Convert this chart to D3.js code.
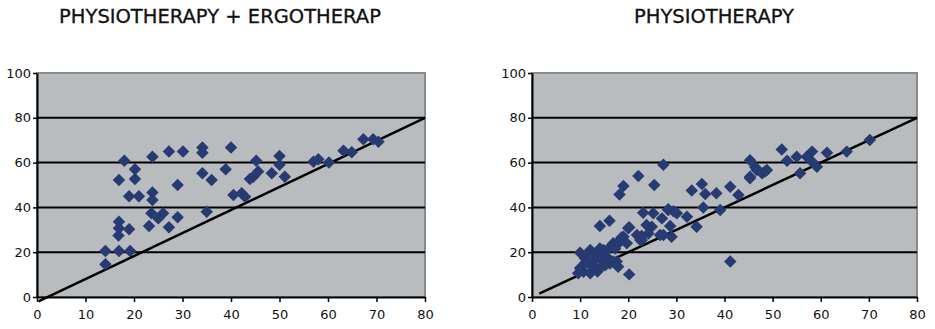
<!DOCTYPE html>
<html>
<head>
<meta charset="utf-8">
<script src="https://cdn.jsdelivr.net/npm/d3@7"></script>
<style>
  body { margin: 0; background: #fff; }
  svg { display: block; }
  .tick text { font-family: "DejaVu Sans", sans-serif; font-size: 13px; fill: #111; }
</style>
</head>
<body>
<svg id="chart" width="935" height="329"></svg>
<script>
// values: [x, y]
var leftTitle = "PHYSIOTHERAPY + ERGOTHERAP";
var rightTitle = "PHYSIOTHERAPY";
var xTicks = [0, 10, 20, 30, 40, 50, 60, 70, 80];
var yTicks = [0, 20, 40, 60, 80, 100];

var leftPoints = [
  [14.1,14.6],[14.1,20.5],[16.9,20.5],[19.2,20.5],[16.8,27.4],[16.9,30.7],[16.9,33.6],[19,30.2],
  [16.9,52.2],[18,60.8],[20.2,57],[20.2,52.7],[19,45],[21,45],[23.8,46.6],[23.8,43.3],
  [23.6,37.4],[25,35.1],[26,37.4],[23.1,31.7],[27.2,31.1],[29,35.6],[23.8,62.6],[27.2,65],
  [30.1,65],[34.1,66.7],[34.1,64.4],[40,66.7],[38.9,57],[34.1,55.2],[36,52.2],[29,50],
  [35,38.1],[40.5,45.5],[42.2,46.3],[42.9,44.8],[44.6,53.7],[43.9,52.7],[45.6,56],[45.2,60.8],
  [50,63],[50,59],[48.4,55.2],[51.1,53.7],[57,60.4],[58,61.5],[60.2,60],[63.2,65.3],
  [64.9,64.6],[67.3,70.4],[69.3,70.4],[70.4,69.3]
];
var leftLine = [[0.3,-2],[80,80]];

var rightPoints = [
  [9.6,10.6],[10,12.8],[10,19.8],[10.3,13.5],[10.7,11.3],[11,17.3],[11.7,19.5],[12.1,10.6],
  [12.1,14.3],[12.1,21],[13.1,12.8],[13.1,16.5],[13.5,18],[14.1,21.7],[14.1,12.8],[14.5,16.5],
  [14.8,21],[14.8,17.3],[15.5,18],[15.9,21.7],[16.2,15],[16.9,15.8],[16.9,24],[17.3,21.7],
  [17.6,15.8],[17.9,13.5],[18.3,25.4],[18.3,24.7],[19,26.9],[19.7,24],[20,30.7],[20.2,10.1],
  [14.1,31.7],[16.1,34],[18.2,45.8],[19,49.6],[22.1,54],[27.3,59],[25.4,50],[23.1,37.6],
  [25.2,37.4],[28.3,38.8],[29.4,38.3],[27,35.1],[20.2,31.1],[24.9,31.4],[18.6,26.6],[22.8,27.2],
  [26.6,27.7],[21.8,27.7],[22.8,25.4],[23.8,32.1],[24.2,28.4],[22.5,25.4],[29,26.9],[27.3,27.7],
  [28.7,31.7],[30.1,37.4],[32.2,35.8],[28.3,39.2],[34.2,31.4],[33.2,47.5],[35.3,50.4],[36,46],
  [38.3,46.3],[41.2,49.2],[42.9,45.5],[35.6,40],[39.1,38.8],[41.2,15.8],[45.3,53.7],[45.3,61],
  [46.7,56.7],[48.4,56],[45.3,53],[46.4,57.9],[47.8,55.2],[48.8,56.7],[51.9,65.9],[53,60.8],
  [55,62.6],[57.1,62.6],[58.2,64.9],[58.2,60.4],[59.2,58.2],[55.7,55.2],[61.3,64.4],[65.4,64.9],
  [70.2,70.1],[11.2,15.5],[12.8,19.2],[15.2,14.2],[13.6,11.4]
];
var rightLine = [[1.5,1.5],[80,80]];

var svg = d3.select("#chart");
var markerColor = "#283a72";
var plotBg = "#b9bcbf";

function drawPanel(left, right, title, titleX, points, lineData) {
  var top = 73, bottom = 297;
  var x = d3.scaleLinear().domain([0, 80]).range([left, right]);
  var y = d3.scaleLinear().domain([0, 100]).range([bottom, top]);
  var g = svg.append("g");

  // plot area with grey frame
  g.append("rect")
    .attr("x", left).attr("y", top)
    .attr("width", right - left).attr("height", bottom - top)
    .attr("fill", plotBg)
    .attr("stroke", "#868b8e")
    .attr("stroke-width", 2);

  // horizontal grid
  g.selectAll(".grid")
    .data(yTicks.filter(d => d > 0 && d < 100))
    .enter().append("line")
    .attr("x1", left).attr("x2", right)
    .attr("y1", d => y(d)).attr("y2", d => y(d))
    .attr("stroke", "#000")
    .attr("stroke-width", 2);

  // diagonal reference line
  g.append("line")
    .attr("x1", x(lineData[0][0])).attr("y1", y(lineData[0][1]))
    .attr("x2", x(lineData[1][0])).attr("y2", y(lineData[1][1]))
    .attr("stroke", "#000")
    .attr("stroke-width", 2.5);

  // diamonds
  var diamond = d3.symbol().type(d3.symbolSquare).size(78);
  g.selectAll(".pt")
    .data(points)
    .enter().append("path")
    .attr("d", diamond)
    .attr("transform", d => "translate(" + x(d[0]) + "," + y(d[1]) + ") rotate(45)")
    .attr("fill", markerColor);

  // axes
  var yAxis = g.append("g")
    .attr("transform", "translate(" + left + ",0)")
    .call(d3.axisLeft(y).tickValues(yTicks).tickSize(4).tickPadding(2).tickSizeOuter(0));
  yAxis.select(".domain").attr("stroke", "#000").attr("stroke-width", 2);
  yAxis.selectAll(".tick line").attr("stroke", "#000").attr("stroke-width", 1.5);

  var xAxis = g.append("g")
    .attr("transform", "translate(0," + bottom + ")")
    .call(d3.axisBottom(x).tickValues(xTicks).tickSize(5).tickPadding(8).tickSizeOuter(0));
  xAxis.select(".domain").attr("stroke", "#000").attr("stroke-width", 2);
  xAxis.selectAll(".tick line").attr("stroke", "#000").attr("stroke-width", 1.5);

  // title
  svg.append("text")
    .attr("x", titleX).attr("y", 23)
    .attr("text-anchor", "middle")
    .style("font-family", "'DejaVu Sans', sans-serif")
    .style("font-size", "19.5px")
    .style("font-weight", "500")
    .style("fill", "#111")
    .style("stroke", "#111")
    .style("stroke-width", 0.3)
    .text(title);
}

drawPanel(37, 425, leftTitle, 220, leftPoints, leftLine);
drawPanel(532, 917, rightTitle, 714, rightPoints, rightLine);
</script>
</body>
</html>
